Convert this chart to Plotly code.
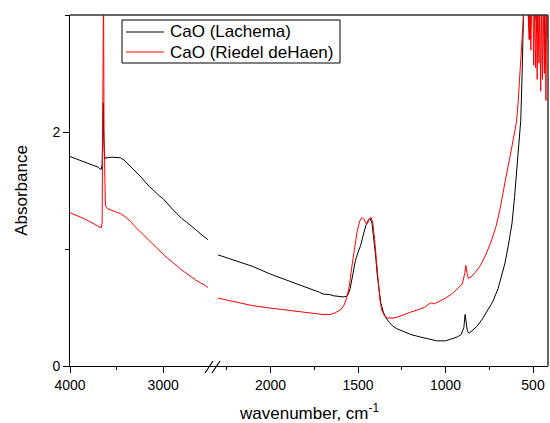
import plotly.graph_objects as go

# ---------------- data ----------------
# left segment (4000 -> ~2520 cm-1)
wn_left_black = [4000, 3950, 3900, 3850, 3800, 3750, 3700, 3680, 3665, 3655, 3648, 3643, 3638, 3630, 3620,
                 3600, 3550, 3500, 3460, 3420, 3380, 3340, 3300, 3250, 3200, 3150, 3100, 3050, 3000,
                 2950, 2900, 2850, 2800, 2750, 2700, 2650, 2600, 2550, 2520]
abs_left_black = [1.79, 1.775, 1.76, 1.745, 1.73, 1.715, 1.70, 1.685, 1.68, 1.72, 1.95, 2.25, 1.95, 1.80, 1.775,
                  1.78, 1.785, 1.785, 1.78, 1.76, 1.73, 1.70, 1.665, 1.625, 1.58, 1.535, 1.50, 1.46, 1.43,
                  1.38, 1.34, 1.30, 1.26, 1.23, 1.20, 1.165, 1.13, 1.10, 1.08]

wn_left_red = [4000, 3950, 3900, 3850, 3800, 3750, 3700, 3680, 3665, 3655, 3650, 3645, 3640, 3635, 3628, 3620,
               3600, 3550, 3500, 3450, 3400, 3350, 3300, 3250, 3200, 3150, 3100, 3050, 3000,
               2950, 2900, 2850, 2800, 2750, 2700, 2650, 2600, 2550, 2520]
abs_left_red = [1.31, 1.295, 1.275, 1.26, 1.24, 1.22, 1.20, 1.19, 1.18, 1.22, 2.0, 3.3, 3.3, 2.0, 1.45, 1.37,
                1.345, 1.33, 1.32, 1.30, 1.27, 1.235, 1.19, 1.15, 1.11, 1.07, 1.03, 0.99, 0.955,
                0.92, 0.89, 0.855, 0.82, 0.79, 0.76, 0.735, 0.71, 0.69, 0.67]

# right segment (~2300 -> 420 cm-1)
wn_right_black = [2300, 2200, 2100, 2000, 1900, 1800, 1750, 1720, 1700, 1680, 1660, 1640, 1620, 1600, 1580,
                  1560, 1545, 1530, 1515, 1500, 1485, 1470, 1455, 1440, 1430, 1420, 1410, 1400, 1390,
                  1380, 1370, 1355, 1340, 1320, 1300, 1280, 1250, 1200, 1150, 1100, 1050, 1000, 960,
                  930, 910, 895, 888, 882, 875, 865, 850, 820, 790, 760, 730, 700, 680, 660, 640, 620,
                  605, 590, 580, 570, 562, 557, 553, 540, 530, 524, 517, 510, 490, 477, 470, 460, 445,
                  437, 431, 425, 420]
abs_right_black = [0.95, 0.90, 0.85, 0.785, 0.73, 0.68, 0.65, 0.63, 0.615, 0.615, 0.61, 0.60, 0.595, 0.595, 0.59,
                   0.60, 0.66, 0.78, 0.90, 0.97, 1.03, 1.12, 1.20, 1.25, 1.26, 1.22, 1.10, 0.95, 0.78,
                   0.64, 0.54, 0.46, 0.41, 0.37, 0.34, 0.32, 0.30, 0.27, 0.25, 0.23, 0.215, 0.215, 0.235,
                   0.25, 0.27, 0.33, 0.44, 0.38, 0.30, 0.28, 0.30, 0.34, 0.40, 0.47, 0.55, 0.66, 0.76, 0.88, 1.04, 1.22,
                   1.45, 1.75, 1.95, 2.1, 2.5, 2.9, 3.1, 3.1, 3.1, 2.95, 2.79, 3.1, 3.1, 2.85, 3.1, 3.1, 3.1,
                   3.1, 2.57, 3.1, 3.1]

wn_right_red = [2300, 2200, 2100, 2000, 1900, 1800, 1750, 1700, 1660, 1630, 1600, 1580, 1565, 1550, 1535,
                1520, 1505, 1490, 1478, 1465, 1455, 1445, 1435, 1425, 1415, 1405, 1395, 1385, 1375,
                1365, 1350, 1330, 1300, 1270, 1240, 1200, 1160, 1120, 1095, 1080, 1065, 1040, 1000,
                960, 930, 905, 890, 884, 878, 870, 855, 830, 800, 770, 740, 710, 690, 670, 650, 630,
                610, 595, 585, 575, 565, 558, 550, 530, 522, 518, 512, 508, 500, 496, 492, 485, 481,
                476, 472, 466, 462, 456, 452, 446, 442, 435, 431, 426, 422, 418]
abs_right_red = [0.58, 0.545, 0.515, 0.495, 0.475, 0.455, 0.445, 0.44, 0.44, 0.455, 0.48, 0.52, 0.58, 0.68, 0.85,
                 1.02, 1.15, 1.24, 1.27, 1.25, 1.22, 1.22, 1.26, 1.27, 1.22, 1.08, 0.90, 0.72, 0.57,
                 0.48, 0.43, 0.41, 0.41, 0.42, 0.44, 0.46, 0.48, 0.50, 0.53, 0.54, 0.53, 0.55, 0.58,
                 0.62, 0.66, 0.70, 0.79, 0.86, 0.80, 0.75, 0.76, 0.80, 0.86, 0.95, 1.06, 1.20, 1.33, 1.50, 1.65, 1.80,
                 1.95, 2.08, 2.25, 2.5, 2.8, 3.0, 3.1, 3.1, 2.79, 3.1, 2.70, 3.1, 3.1, 2.57, 3.1, 2.55, 3.1,
                 2.45, 3.1, 2.59, 3.1, 2.35, 3.1, 2.45, 3.1, 2.5, 3.1, 2.27, 3.1, 2.8]

series_names = ["CaO (Lachema)", "CaO (Riedel deHaen)"]
series_colors = ["#000000", "#ff0000"]

x_left_ticks = [4000, 3000]
x_left_minor = [3500]
x_right_ticks = [2000, 1500, 1000, 500]
x_right_minor = [2250, 1750, 1250, 750]
y_ticks = [0, 2]
y_minor = [1, 3]

# ---------------- layout helpers ----------------
W, H = 550, 423
ML, MR, MT, MB = 70, 2, 15, 57
PW, PH = W - ML - MR, H - MT - MB
BREAK_PX = 212
split = (BREAK_PX - ML) / PW


def px_x(p):
    return (p - ML) / PW


def px_y(p):
    return (H - MB - p) / PH


FONT = "Arial, 'Liberation Sans', sans-serif"

fig = go.Figure()
for (wl, al, wr, ar), name, col in zip(
        [(wn_left_black, abs_left_black, wn_right_black, abs_right_black),
         (wn_left_red, abs_left_red, wn_right_red, abs_right_red)],
        series_names, series_colors):
    fig.add_trace(go.Scatter(x=wl, y=al, mode="lines", name=name, showlegend=False,
                             line=dict(color=col, width=1), xaxis="x", yaxis="y"))
    fig.add_trace(go.Scatter(x=wr, y=ar, mode="lines", name=name, showlegend=False,
                             line=dict(color=col, width=1), xaxis="x2", yaxis="y"))

axis_common = dict(showline=True, linecolor="black", linewidth=1, ticks="outside", ticklen=6,
                   tickcolor="black", showgrid=False, zeroline=False,
                   tickfont=dict(family=FONT, size=14, color="black"))

fig.update_layout(
    width=W, height=H, margin=dict(l=ML, r=MR, t=MT, b=MB),
    paper_bgcolor="white", plot_bgcolor="white",
    xaxis=dict(domain=[0, split], range=[4000, 4000 - (BREAK_PX - 69.5) / 0.0935],
               tickmode="array", tickvals=x_left_ticks,
               minor=dict(tickmode="array", tickvals=x_left_minor, ticks="outside", ticklen=3, tickcolor="black"),
               anchor="y", **axis_common),
    xaxis2=dict(domain=[split, 1], range=[2000 + (270.5 - BREAK_PX) / 0.175, 500 - (548 - 533) / 0.175],
                tickmode="array", tickvals=x_right_ticks,
                minor=dict(tickmode="array", tickvals=x_right_minor, ticks="outside", ticklen=3, tickcolor="black"),
                anchor="y", **axis_common),
    yaxis=dict(domain=[0, 1], range=[0, 3], tickmode="array", tickvals=y_ticks,
               minor=dict(tickmode="array", tickvals=y_minor, ticks="outside", ticklen=4, tickcolor="black"),
               title=dict(text="Absorbance", font=dict(family=FONT, size=17, color="black"), standoff=20),
               anchor="x", **axis_common),
    showlegend=False,
)

# x-axis title (centred on the whole plot)
fig.add_annotation(text="wavenumber, cm<sup>-1</sup>", xref="paper", yref="paper", x=0.5, y=0,
                   yshift=-46, showarrow=False, yanchor="middle",
                   font=dict(family=FONT, size=17, color="black"))

# frame: top and right
fig.add_shape(type="line", xref="paper", yref="paper", x0=0, x1=1, y0=1, y1=1,
              line=dict(color="#333333", width=1.5))
fig.add_shape(type="line", xref="paper", yref="paper", x0=1, x1=1, y0=0, y1=1,
              line=dict(color="#333333", width=1.5))

# axis break marks
for dx in (0, 7):
    fig.add_shape(type="line", xref="paper", yref="paper",
                  x0=px_x(205 + dx), y0=px_y(373), x1=px_x(213 + dx), y1=px_y(361),
                  line=dict(color="black", width=1.2))

# legend (box, line samples, labels)
fig.add_shape(type="rect", xref="paper", yref="paper",
              x0=px_x(122), x1=px_x(340), y0=px_y(63), y1=px_y(20),
              line=dict(color="black", width=1), fillcolor="white", layer="above")
for i, (name, col) in enumerate(zip(series_names, series_colors)):
    yrow = 32 + 20 * i
    fig.add_shape(type="line", xref="paper", yref="paper",
                  x0=px_x(126), x1=px_x(164), y0=px_y(yrow), y1=px_y(yrow),
                  line=dict(color=col, width=1), layer="above")
    fig.add_annotation(text=name, xref="paper", yref="paper", x=px_x(168), y=px_y(yrow),
                       xanchor="left", yanchor="middle", showarrow=False,
                       font=dict(family=FONT, size=17, color="black"))

fig.write_html("out.html")
